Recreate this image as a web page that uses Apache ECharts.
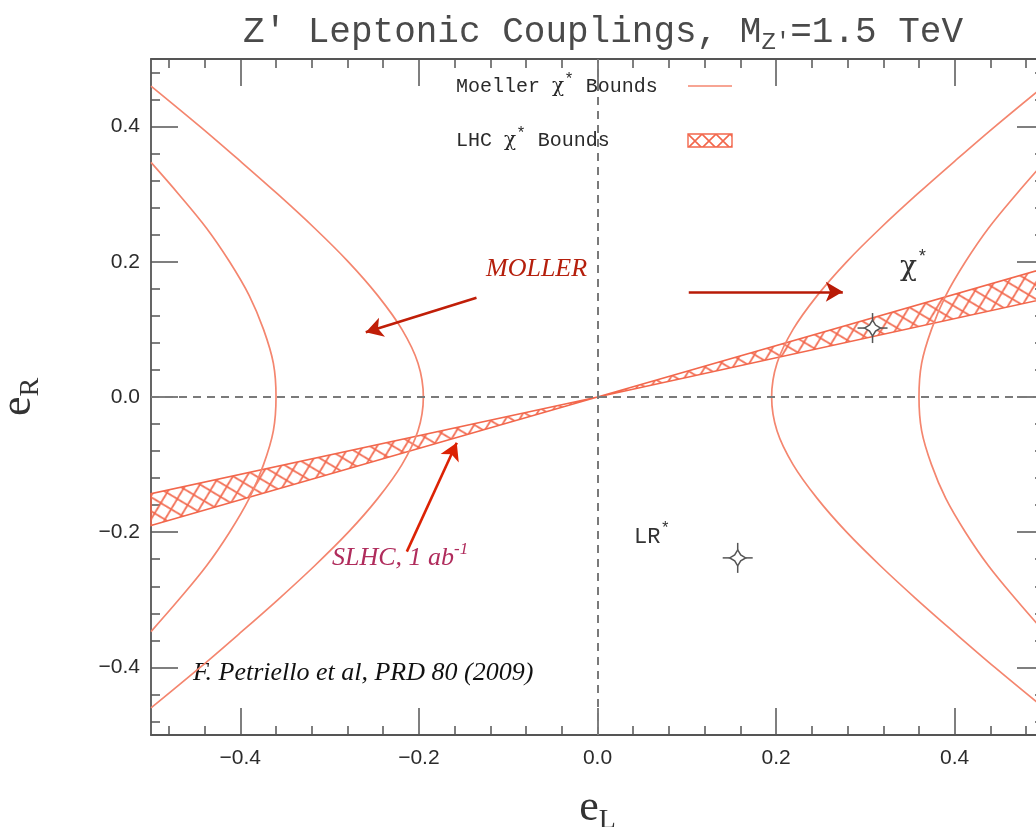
<!DOCTYPE html>
<html>
<head>
<meta charset="utf-8">
<title>Z′ Leptonic Couplings</title>
<script src="https://cdn.jsdelivr.net/npm/echarts@6/dist/echarts.min.js"></script>
<style>
  html, body { margin: 0; padding: 0; background: #ffffff; }
  #chart { width: 1036px; height: 827px; }
</style>
</head>
<body>
<div id="chart"></div>
<script>
// ---- axis ticks (e_L and e_R share the same layout) ----
const majorTicks = [-0.4, -0.2, 0, 0.2, 0.4];
const minorTicks = [-0.48, -0.44, -0.36, -0.32, -0.28, -0.24, -0.16, -0.12, -0.08, -0.04,
                    0.04, 0.08, 0.12, 0.16, 0.24, 0.28, 0.32, 0.36, 0.44, 0.48];

// ---- Moeller chi* bounds: four hyperbola-like branches, points as [e_L, e_R] ----
const moellerLeftOuter = [
  [-0.500, 0.460], [-0.445, 0.400], [-0.401, 0.350], [-0.358, 0.300], [-0.317, 0.250],
  [-0.279, 0.200], [-0.246, 0.150], [-0.219, 0.100], [-0.201, 0.050], [-0.195, 0.000],
  [-0.201, -0.050], [-0.219, -0.100], [-0.246, -0.150], [-0.279, -0.200], [-0.317, -0.250],
  [-0.358, -0.300], [-0.401, -0.350], [-0.445, -0.400], [-0.500, -0.460]
];
const moellerLeftInner = [
  [-0.500, 0.347], [-0.469, 0.300], [-0.438, 0.250], [-0.412, 0.200], [-0.390, 0.150],
  [-0.374, 0.100], [-0.363, 0.050], [-0.360, 0.000], [-0.363, -0.050], [-0.374, -0.100],
  [-0.390, -0.150], [-0.412, -0.200], [-0.438, -0.250], [-0.469, -0.300], [-0.500, -0.347]
];
const moellerRightInner = [
  [0.500, 0.460], [0.445, 0.400], [0.401, 0.350], [0.358, 0.300], [0.317, 0.250],
  [0.279, 0.200], [0.246, 0.150], [0.219, 0.100], [0.201, 0.050], [0.195, 0.000],
  [0.201, -0.050], [0.219, -0.100], [0.246, -0.150], [0.279, -0.200], [0.317, -0.250],
  [0.358, -0.300], [0.401, -0.350], [0.445, -0.400], [0.500, -0.460]
];
const moellerRightOuter = [
  [0.500, 0.347], [0.469, 0.300], [0.438, 0.250], [0.412, 0.200], [0.390, 0.150],
  [0.374, 0.100], [0.363, 0.050], [0.360, 0.000], [0.363, -0.050], [0.374, -0.100],
  [0.390, -0.150], [0.412, -0.200], [0.438, -0.250], [0.469, -0.300], [0.500, -0.347]
];

// ---- LHC chi* bounds: wedge between two lines through the origin ----
const lhcSteepEdge   = [[-0.5, -0.190], [0, 0], [0.5, 0.190]];
const lhcShallowEdge = [[-0.5, -0.143], [0, 0], [0.5, 0.145]];

// ---- benchmark models ----
const modelNames  = ['χ*', 'LR*'];
const modelPoints = [[0.308, 0.102], [0.157, -0.238]];

// ---- annotation arrows [from, to] in (e_L, e_R) ----
const arrowMoller = [[-0.1355, 0.1467], [-0.2595, 0.0957]];
const arrowChi    = [[0.1022, 0.1556], [0.2747, 0.1556]];
const arrowSlhc   = [[-0.2135, -0.2287], [-0.1576, -0.0677]];

// ---- styles ----
const curveColor = '#f4866f';
const hatchColor = '#f2674c';
const axisColor = '#555555';

function makeHatch(size) {
  const c = document.createElement('canvas');
  c.width = size; c.height = size;
  const g = c.getContext('2d');
  g.strokeStyle = hatchColor;
  g.lineWidth = 1.6;
  g.beginPath();
  g.moveTo(0, 0); g.lineTo(size, size);
  g.moveTo(size, 0); g.lineTo(0, size);
  g.stroke();
  return c;
}
const hatchCanvas = makeHatch(17);
const legendCanvas = makeHatch(14);
const bandFill = { image: hatchCanvas, repeat: 'repeat', rotation: -0.245 };
const legendFill = { image: legendCanvas, repeat: 'repeat', x: 688, y: 134 };

const chart = echarts.init(document.getElementById('chart'), null, { renderer: 'canvas' });

const fmt = v => (Math.abs(v) < 1e-9 ? '0.0' : v.toFixed(1).replace('-', '\u2212'));

function valueAxis(extra) {
  return Object.assign({
    type: 'value', min: -0.5, max: 0.5, gridIndex: 0,
    splitLine: { show: false },
    axisLine: { show: false, onZero: false },
    axisLabel: { show: false },
    axisTick: { show: false }
  }, extra);
}
const axisLineStyle = { color: axisColor, width: 1.8 };
const labelStyle = {
  show: true, color: '#2b2b2b', fontFamily: 'Liberation Sans', fontSize: 21,
  customValues: majorTicks, formatter: fmt
};
const nameRich = {
  e: { fontFamily: 'Liberation Serif', fontSize: 44, color: '#333' },
  s: { fontFamily: 'Liberation Serif', fontSize: 28, color: '#333', padding: [26, 0, 0, 0] }
};

const xAxes = [
  valueAxis({
    position: 'bottom',
    axisLine: { show: true, onZero: false, lineStyle: axisLineStyle },
    axisTick: { show: true, inside: true, length: 27, customValues: majorTicks, lineStyle: { color: axisColor, width: 1.5 } },
    axisLabel: Object.assign({ margin: 13 }, labelStyle),
    name: '{e|e}{s|L}', nameLocation: 'middle', nameGap: 46,
    nameTextStyle: { rich: nameRich }
  }),
  valueAxis({ position: 'bottom', axisTick: { show: true, inside: true, length: 9, customValues: minorTicks, lineStyle: { color: axisColor, width: 1.5 } } }),
  valueAxis({
    position: 'top',
    axisLine: { show: true, onZero: false, lineStyle: axisLineStyle },
    axisTick: { show: true, inside: true, length: 27, customValues: majorTicks, lineStyle: { color: axisColor, width: 1.5 } }
  }),
  valueAxis({ position: 'top', axisTick: { show: true, inside: true, length: 9, customValues: minorTicks, lineStyle: { color: axisColor, width: 1.5 } } })
];
const yAxes = [
  valueAxis({
    position: 'left',
    axisLine: { show: true, onZero: false, lineStyle: axisLineStyle },
    axisTick: { show: true, inside: true, length: 27, customValues: majorTicks, lineStyle: { color: axisColor, width: 1.5 } },
    axisLabel: Object.assign({ margin: 11 }, labelStyle),
    name: '{e|e}{s|R}', nameLocation: 'middle', nameRotate: 90, nameGap: 106,
    nameTextStyle: { rich: nameRich }
  }),
  valueAxis({ position: 'left', axisTick: { show: true, inside: true, length: 9, customValues: minorTicks, lineStyle: { color: axisColor, width: 1.5 } } }),
  valueAxis({
    position: 'right',
    axisLine: { show: true, onZero: false, lineStyle: axisLineStyle },
    axisTick: { show: true, inside: true, length: 27, customValues: majorTicks, lineStyle: { color: axisColor, width: 1.5 } }
  }),
  valueAxis({ position: 'right', axisTick: { show: true, inside: true, length: 9, customValues: minorTicks, lineStyle: { color: axisColor, width: 1.5 } } })
];

function curveSeries(data, extra) {
  return Object.assign({
    name: 'Moeller χ* Bounds',
    type: 'line', data: data, xAxisIndex: 0, yAxisIndex: 0,
    showSymbol: false, smooth: 0.35, silent: true, z: 3,
    lineStyle: { color: curveColor, width: 1.7 }
  }, extra);
}

function renderBand(params, api) {
  const pts = lhcSteepEdge.concat(lhcShallowEdge.slice().reverse()).map(p => api.coord(p));
  return {
    type: 'polygon',
    shape: { points: pts },
    style: { fill: bandFill, stroke: hatchColor, lineWidth: 1.5 }
  };
}

function renderStar(params, api) {
  const c = api.coord([api.value(0), api.value(1)]);
  const d = 8, k = 3, a = 15;
  const x = c[0], y = c[1];
  const st = { stroke: '#555', lineWidth: 1.5, fill: null };
  return {
    type: 'group',
    children: [
      { type: 'polygon', shape: { points: [[x, y - d], [x + k, y - k], [x + d, y], [x + k, y + k], [x, y + d], [x - k, y + k], [x - d, y], [x - k, y - k]] }, style: { fill: '#fff', stroke: '#555', lineWidth: 1.5 } },
      { type: 'line', shape: { x1: x, y1: y - a, x2: x, y2: y - d }, style: st },
      { type: 'line', shape: { x1: x, y1: y + d, x2: x, y2: y + a }, style: st },
      { type: 'line', shape: { x1: x - a, y1: y, x2: x - d, y2: y }, style: st },
      { type: 'line', shape: { x1: x + d, y1: y, x2: x + a, y2: y }, style: st }
    ]
  };
}

function arrow(seg, color) {
  return [
    { coord: seg[0], lineStyle: { color: color, width: 2.6, type: 'solid' } },
    { coord: seg[1] }
  ];
}

const option = {
  backgroundColor: '#ffffff',
  animation: false,
  title: {
    text: '{a|Z′ Leptonic Couplings, M}{s|Z′}{a|=1.5 TeV}',
    left: 598, top: 4, textAlign: 'center',
    textStyle: {
      fontWeight: 'normal',
      rich: {
        a: { fontFamily: 'Liberation Mono', fontSize: 36, fontWeight: 'normal', color: '#4a4a4a' },
        s: { fontFamily: 'Liberation Mono', fontSize: 24, fontWeight: 'normal', color: '#4a4a4a', padding: [22, 0, 0, 0] }
      }
    }
  },
  grid: { left: 151, top: 59, right: -8, bottom: 92, containLabel: false, outerBoundsMode: 'none' },
  xAxis: xAxes,
  yAxis: yAxes,
  series: [
    {
      name: 'LHC χ* Bounds', type: 'custom', renderItem: renderBand,
      data: [[0, 0]], xAxisIndex: 0, yAxisIndex: 0, silent: true, z: 2
    },
    curveSeries(moellerLeftOuter, {
      markLine: {
        silent: true, symbol: 'none', label: { show: false },
        lineStyle: { color: '#7a7a7a', width: 2, type: [8, 6] },
        data: [{ xAxis: 0 }, { yAxis: 0 }]
      }
    }),
    curveSeries(moellerLeftInner),
    curveSeries(moellerRightInner),
    curveSeries(moellerRightOuter, {
      markLine: {
        silent: true, symbol: ['none', 'arrow'], symbolSize: [15, 17], label: { show: false },
        data: [
          arrow(arrowMoller, '#c01e08'),
          arrow(arrowChi, '#b81a06'),
          arrow(arrowSlhc, '#dc2204')
        ]
      }
    }),
    {
      name: 'models', type: 'custom', renderItem: renderStar,
      data: modelPoints, xAxisIndex: 0, yAxisIndex: 0, silent: true, z: 5
    }
  ],
  graphic: [
    // legend
    { type: 'text', x: 456, y: 87, style: {
        text: 'Moeller {g|χ}{u|*} Bounds', fill: '#2a2a2a', fontFamily: 'Liberation Mono', fontSize: 20, verticalAlign: 'middle',
        rich: { g: { fontFamily: 'DejaVu Serif', fontSize: 20, fill: '#2a2a2a' }, u: { fontFamily: 'Liberation Mono', fontSize: 16, fill: '#2a2a2a', padding: [0, 0, 14, 0] } } } },
    { type: 'line', shape: { x1: 688, y1: 86, x2: 732, y2: 86 }, style: { stroke: curveColor, lineWidth: 1.7 } },
    { type: 'text', x: 456, y: 141, style: {
        text: 'LHC {g|χ}{u|*} Bounds', fill: '#2a2a2a', fontFamily: 'Liberation Mono', fontSize: 20, verticalAlign: 'middle',
        rich: { g: { fontFamily: 'DejaVu Serif', fontSize: 20, fill: '#2a2a2a' }, u: { fontFamily: 'Liberation Mono', fontSize: 16, fill: '#2a2a2a', padding: [0, 0, 14, 0] } } } },
    { type: 'rect', shape: { x: 688, y: 134, width: 44, height: 13 }, style: { fill: legendFill, stroke: hatchColor, lineWidth: 1.4 } },
    // benchmark model labels
    { type: 'text', x: 900, y: 268, style: {
        text: '{g|' + 'χ' + '}{u|*}', verticalAlign: 'middle',
        rich: { g: { fontFamily: 'DejaVu Serif', fontSize: 28, fill: '#333' }, u: { fontFamily: 'Liberation Mono', fontSize: 18, fill: '#333', padding: [0, 0, 22, 0] } } } },
    { type: 'text', x: 634, y: 537, style: {
        text: '{g|LR}{u|*}', verticalAlign: 'middle',
        rich: { g: { fontFamily: 'Liberation Mono', fontSize: 22, fill: '#333' }, u: { fontFamily: 'Liberation Mono', fontSize: 16, fill: '#333', padding: [0, 0, 16, 0] } } } },
    // annotations
    { type: 'text', x: 486, y: 269, style: {
        text: 'MOLLER', fill: '#b51f0c', fontFamily: 'Liberation Serif', fontStyle: 'italic', fontSize: 26, verticalAlign: 'middle' } },
    { type: 'text', x: 332, y: 558, style: {
        text: 'SLHC, 1 ab{u|-1}', fill: '#b02c5c', fontFamily: 'Liberation Serif', fontStyle: 'italic', fontSize: 26, verticalAlign: 'middle',
        rich: { u: { fill: '#b02c5c', fontFamily: 'Liberation Serif', fontStyle: 'italic', fontSize: 17, padding: [0, 0, 16, 0] } } } },
    { type: 'text', x: 193, y: 673, style: {
        text: 'F. Petriello et al, PRD 80 (2009)', fill: '#111', fontFamily: 'Liberation Serif', fontStyle: 'italic', fontSize: 26, verticalAlign: 'middle' } }
  ]
};

chart.setOption(option);
</script>
</body>
</html>
